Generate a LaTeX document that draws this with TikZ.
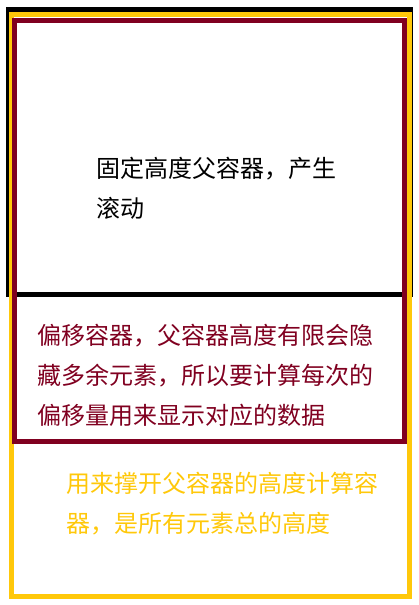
\documentclass[tikz,border=0pt]{standalone}
\usepackage{fontspec}
\newfontfamily\cjk{Noto Sans CJK SC}
\definecolor{framered}{RGB}{128,0,32}
\definecolor{framegold}{RGB}{255,200,10}

\begin{document}
\begin{tikzpicture}[x=1pt,y=-1pt,
    frame/.style={line width=5pt},
    boxtext/.style={anchor=base west, inner sep=0pt, align=left,
      font=\cjk\fontsize{24}{40}\selectfont}]
  \useasboundingbox (0,0) rectangle (419,605);

  % fixed-height parent, fill container, offset container
  \draw[frame, black] (8.5,9) rectangle (410.5,294.5);
  \draw[frame, framegold] (11.5,14.5) rectangle (409.5,596.5);
  \draw[frame, framered] (14.5,20) rectangle (404,441);

  % base anchor sits on the last line
  \node[boxtext] (parenttext) at (96,217) {固定高度父容器，产生\\滚动};
  \node[boxtext, text=framered] (offsettext) at (37,424)
    {偏移容器，父容器高度有限会隐\\藏多余元素，所以要计算每次的\\偏移量用来显示对应的数据};
  \node[boxtext, text=framegold] (filltext) at (66,532)
    {用来撑开父容器的高度计算容\\器，是所有元素总的高度};
\end{tikzpicture}
\end{document}
